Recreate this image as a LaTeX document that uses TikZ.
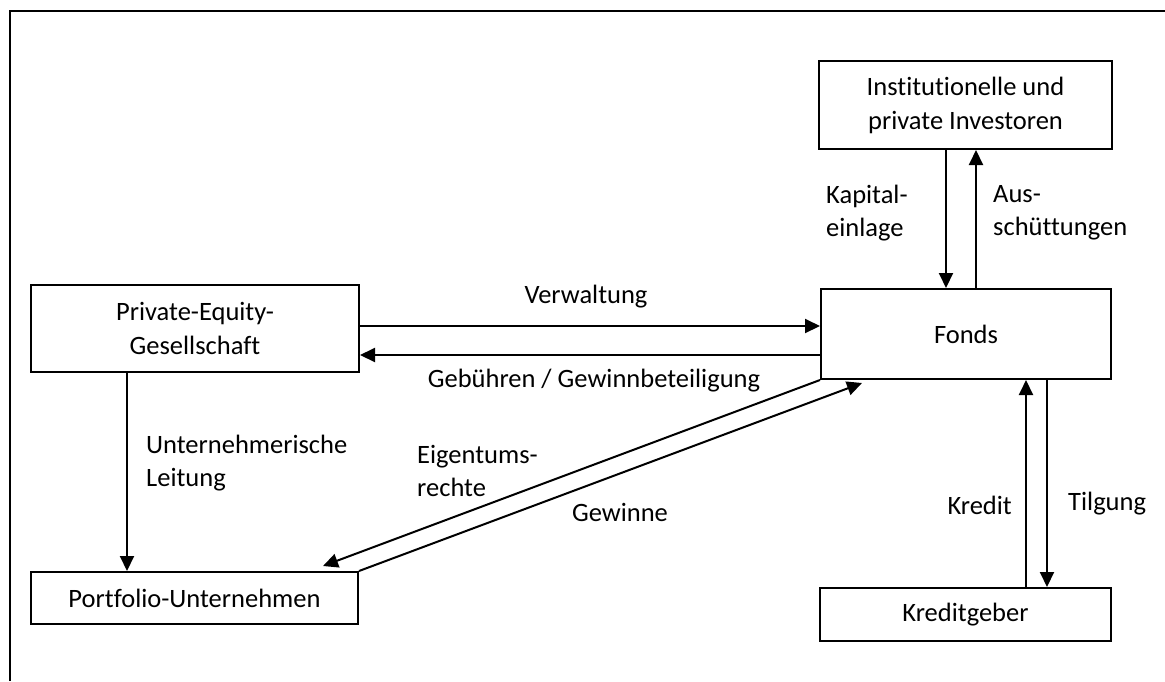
\documentclass[tikz,border=0pt]{standalone}
\usepackage{fontspec}
\setmainfont{Carlito}[Ligatures=NoCommon]
\usetikzlibrary{arrows.meta}
\begin{document}
\begin{tikzpicture}[x=1pt,y=-1pt,
  box/.style={draw,line width=2pt,inner sep=0pt,align=center,font=\fontsize{26.5}{34}\selectfont},
  lbl/.style={inner sep=0pt,font=\fontsize{26.5}{33}\selectfont},
  conn/.style={line width=2pt,-{Triangle[length=15pt,width=14pt]}}]
\useasboundingbox (0,0) rectangle (1165,681);
\draw[line width=1.5pt] (10,681) -- (10,11) -- (1165,11);
% boxes
\node[box,minimum width=293pt,minimum height=88pt] (inv) at (965.5,105) {Institutionelle und\\private Investoren};
\node[box,minimum width=290pt,minimum height=90pt] (fonds) at (966,334) {Fonds};
\node[box,minimum width=328pt,minimum height=87pt] (pe) at (195,328.5) {Private-Equity-\\Gesellschaft};
\node[box,minimum width=327pt,minimum height=52pt] (pu) at (194.5,598) {Portfolio-Unternehmen};
\node[box,minimum width=291pt,minimum height=53pt] (kg) at (965.5,614.5) {Kreditgeber};
% connectors
\draw[conn] (inv.south -| 946,0) -- (fonds.north -| 946,0);
\draw[conn] (fonds.north -| 976,0) -- (inv.south -| 976,0);
\draw[conn] (pe.east |- 0,326) -- (fonds.west |- 0,326);
\draw[conn] (fonds.west |- 0,355) -- (pe.east |- 0,355);
\draw[conn] (pe.south -| 127,0) -- (pu.north -| 127,0);
\coordinate (etip) at (323,566);
\coordinate (gtip) at (862,383);
\draw[conn] (fonds.south west) -- (etip);
\draw[conn] (pu.north east) -- (gtip);
\draw[conn] (kg.north -| 1026,0) -- (fonds.south -| 1026,0);
\draw[conn] (fonds.south -| 1047,0) -- (kg.north -| 1047,0);
% labels
\node[lbl] (lv) at (586,297) {Verwaltung};
\node[lbl] (lg) at (594,381) {Gebühren / Gewinnbeteiligung};
\node[lbl,align=left,anchor=west] (lk) at (826,213) {Kapital-\\einlage};
\node[lbl,align=left,anchor=west] (la) at (993,213) {Aus-\\schüttungen};
\node[lbl,align=left,anchor=west] (lu) at (146,463) {Unternehmerische\\Leitung};
\node[lbl,align=left,anchor=west] (le) at (417,471) {Eigentums-\\rechte};
\node[lbl] (lgw) at (620,512) {Gewinne};
\node[lbl,anchor=east] (lkr) at (1012,505) {Kredit};
\node[lbl,anchor=west] (lt) at (1068,504) {Tilgung};
\end{tikzpicture}
\end{document}
